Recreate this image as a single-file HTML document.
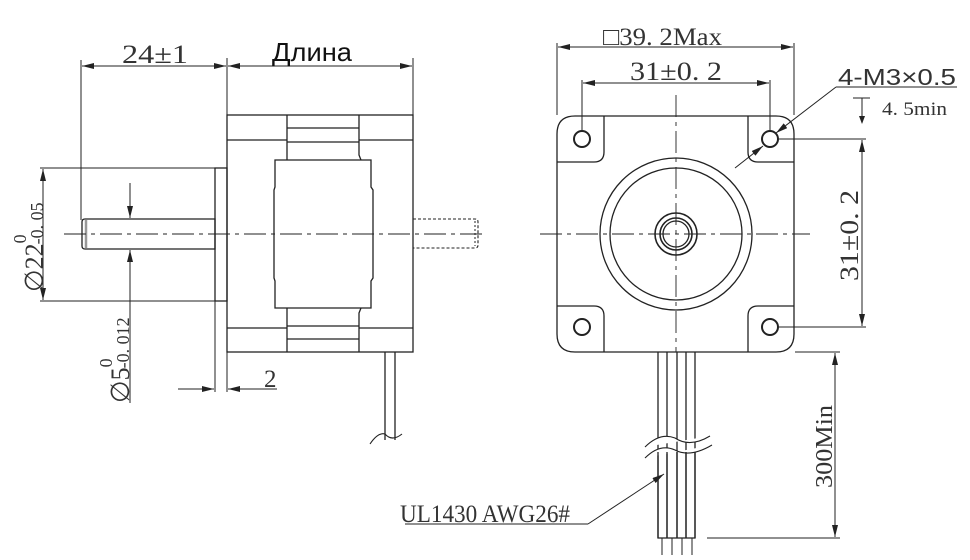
<!DOCTYPE html>
<html><head><meta charset="utf-8"><style>html,body{margin:0;padding:0;background:#fff}svg{display:block}</style></head>
<body>
<svg width="970" height="560" viewBox="0 0 970 560" xmlns="http://www.w3.org/2000/svg">
<defs>
<marker id="a" viewBox="0 0 12 6" refX="12" refY="3" markerWidth="12" markerHeight="6" orient="auto-start-reverse" markerUnits="userSpaceOnUse"><path d="M0,0 L12,3 L0,6 z" fill="#222"/></marker>
</defs>
<g stroke="#222" stroke-width="1.3" fill="none">
<line x1="81" y1="60" x2="81" y2="220" stroke-width="1"/>
<line x1="227" y1="58" x2="227" y2="115" stroke-width="1"/>
<line x1="413" y1="58" x2="413" y2="115" stroke-width="1"/>
<line x1="82" y1="66" x2="226" y2="66" stroke-width="1" marker-start="url(#a)" marker-end="url(#a)"/>
<line x1="228" y1="66" x2="412" y2="66" stroke-width="1" marker-start="url(#a)" marker-end="url(#a)"/>
<rect x="227" y="115" width="186" height="237"/>
<line x1="227" y1="140" x2="287" y2="140"/>
<line x1="359" y1="140" x2="413" y2="140"/>
<line x1="227" y1="328" x2="287" y2="328"/>
<line x1="359" y1="328" x2="413" y2="328"/>
<path d="M287,115 V160 M359,115 V155 L361,160"/>
<line x1="287" y1="128" x2="359" y2="128"/>
<line x1="287" y1="142" x2="359" y2="142"/>
<path d="M287,352 V308 M359,352 V313 L361,308"/>
<line x1="287" y1="326" x2="359" y2="326"/>
<line x1="287" y1="339" x2="359" y2="339"/>
<path d="M275,160 H371 V187 L373,190 V278 L371,281 V308 H275 V281 L274,278 V190 L275,187 Z"/>
<rect x="215" y="168" width="12" height="133"/>
<path d="M85,219 H215 V249 H85 Q82,249 82,246 V222 Q82,219 85,219 Z"/>
<line x1="86" y1="220" x2="86" y2="248" stroke-width="2.5" stroke="#999"/>
<path d="M413,219 H475 Q478,219 478,222 V245 Q478,248 475,248 H413" stroke-dasharray="3,2" stroke-width="1.1"/>
<line x1="475" y1="221" x2="475" y2="246" stroke-dasharray="2,2" stroke-width="1"/>
<line x1="64" y1="234" x2="486" y2="234" stroke-width="0.9" stroke-dasharray="22,5,4,5"/>
<line x1="40" y1="168" x2="215" y2="168" stroke-width="1"/>
<line x1="40" y1="301" x2="215" y2="301" stroke-width="1"/>
<line x1="43" y1="169" x2="43" y2="300" stroke-width="1" marker-start="url(#a)" marker-end="url(#a)"/>
<line x1="130" y1="183" x2="130" y2="218" stroke-width="1" marker-end="url(#a)"/>
<line x1="130" y1="403" x2="130" y2="250" stroke-width="1" marker-end="url(#a)"/>
<line x1="215" y1="301" x2="215" y2="392" stroke-width="1"/>
<line x1="227" y1="352" x2="227" y2="392" stroke-width="1"/>
<line x1="178" y1="389" x2="214" y2="389" stroke-width="1" marker-end="url(#a)"/>
<line x1="277" y1="389" x2="228" y2="389" stroke-width="1" marker-end="url(#a)"/>
<path d="M385,352 V440 M395,352 V440"/>
<path d="M370,444 Q378,432 385,434 Q392,442 402,434" stroke-width="1.1"/>

<path d="M575,116 H776 Q794,116 794,134 V334 Q794,352 776,352 H575 Q557,352 557,334 V134 Q557,116 575,116 Z"/>
<path d="M557,162 H594 Q604,162 604,152 V116"/>
<path d="M748,116 V152 Q748,162 758,162 H794"/>
<path d="M557,306 H594 Q604,306 604,316 V352"/>
<path d="M748,352 V316 Q748,306 758,306 H794"/>
<circle cx="582" cy="139" r="8" stroke-width="2"/>
<circle cx="770" cy="139" r="8" stroke-width="2"/>
<circle cx="582" cy="327" r="8" stroke-width="2"/>
<circle cx="770" cy="327" r="8" stroke-width="2"/>
<circle cx="676" cy="234" r="76"/>
<circle cx="676" cy="234" r="66"/>
<circle cx="676" cy="234" r="21" stroke-width="1.6"/>
<circle cx="676" cy="234" r="16" stroke-width="1.6"/>
<circle cx="676" cy="234" r="13"/>
<line x1="540" y1="234" x2="810" y2="234" stroke-width="0.9" stroke-dasharray="22,5,4,5"/>
<line x1="676" y1="95" x2="676" y2="352" stroke-width="0.9" stroke-dasharray="22,5,4,5"/>
<line x1="557" y1="43" x2="557" y2="115" stroke-width="1"/>
<line x1="794" y1="43" x2="794" y2="115" stroke-width="1"/>
<line x1="558" y1="47" x2="793" y2="47" stroke-width="1" marker-start="url(#a)" marker-end="url(#a)"/>
<line x1="582" y1="80" x2="582" y2="131" stroke-width="1"/>
<line x1="770" y1="80" x2="770" y2="131" stroke-width="1"/>
<line x1="583" y1="83" x2="769" y2="83" stroke-width="1" marker-start="url(#a)" marker-end="url(#a)"/>
<line x1="836" y1="87" x2="957" y2="87" stroke-width="1"/>
<line x1="836" y1="87" x2="776" y2="133" stroke-width="1" marker-end="url(#a)"/>
<line x1="735" y1="168" x2="763" y2="146" stroke-width="1" marker-end="url(#a)"/>
<path d="M853,98 H870 M862,98 V123" stroke-width="1"/>
<path d="M859,116 L862,124 L865,116" fill="#222" stroke="none"/>
<line x1="778" y1="139" x2="866" y2="139" stroke-width="1"/>
<line x1="778" y1="327" x2="866" y2="327" stroke-width="1"/>
<line x1="862" y1="140" x2="862" y2="326" stroke-width="1" marker-start="url(#a)" marker-end="url(#a)"/>
<path d="M658,352 V538 H695 V352 M667,352 V538 M677,352 V538 M686,352 V538"/>
<path d="M662,538 V555 M672,538 V555 M682,538 V555 M692,538 V555" stroke-width="1"/>
<path d="M645,447 Q660,432 675,438 Q690,448 710,436" stroke-width="1.1" fill="#fff"/>
<path d="M645,458 Q660,443 675,450 Q690,458 712,445" stroke-width="1.1" fill="#fff"/>
<line x1="795" y1="352" x2="840" y2="352" stroke-width="1"/>
<line x1="707" y1="538" x2="840" y2="538" stroke-width="1"/>
<line x1="835" y1="353" x2="835" y2="537" stroke-width="1" marker-start="url(#a)" marker-end="url(#a)"/>
<line x1="405" y1="524" x2="588" y2="524" stroke-width="1"/>
<line x1="588" y1="524" x2="664" y2="474" stroke-width="1" marker-end="url(#a)"/>
</g>
<g stroke="#222" stroke-width="1.3">
<path d="M658,452 V538 M667,452 V538 M677,452 V538 M686,452 V538 M695,452 V538" />
</g>
<g fill="#333" font-family="'Liberation Serif', serif">
<text x="122" y="63" font-size="26" textLength="66" lengthAdjust="spacingAndGlyphs">24±1</text>
<text x="272" y="61" font-size="26" font-family="'Liberation Sans', sans-serif" fill="#111" textLength="80" lengthAdjust="spacingAndGlyphs">Длина</text>
<text x="603" y="45" font-size="25" textLength="119" lengthAdjust="spacingAndGlyphs">□39. 2Max</text>
<text x="630" y="80" font-size="26" textLength="92" lengthAdjust="spacingAndGlyphs">31±0. 2</text>
<text x="838" y="85" font-size="23" font-family="'Liberation Sans', sans-serif" textLength="118" lengthAdjust="spacingAndGlyphs">4-M3×0.5</text>
<text x="882" y="115" font-size="19" textLength="65" lengthAdjust="spacingAndGlyphs">4. 5min</text>
<text x="264" y="387" font-size="25">2</text>
<text x="400" y="522" font-size="25" textLength="170" lengthAdjust="spacingAndGlyphs">UL1430 AWG26#</text>
<text transform="translate(858,281) rotate(-90)" font-size="26" textLength="91" lengthAdjust="spacingAndGlyphs">31±0. 2</text>
<text transform="translate(832,488) rotate(-90)" font-size="24" textLength="83" lengthAdjust="spacingAndGlyphs">300Min</text>
<text transform="translate(43,292) rotate(-90)" font-size="26">∅22<tspan dy="-17" font-size="18">0</tspan><tspan dy="17" dx="-10" font-size="18">-0. 05</tspan></text>
<text transform="translate(129,403) rotate(-90)" font-size="26">∅5<tspan dy="-17" font-size="18">0</tspan><tspan dy="17" dx="-10" font-size="18">-0. 012</tspan></text>
</g>
</svg>
</body></html>
